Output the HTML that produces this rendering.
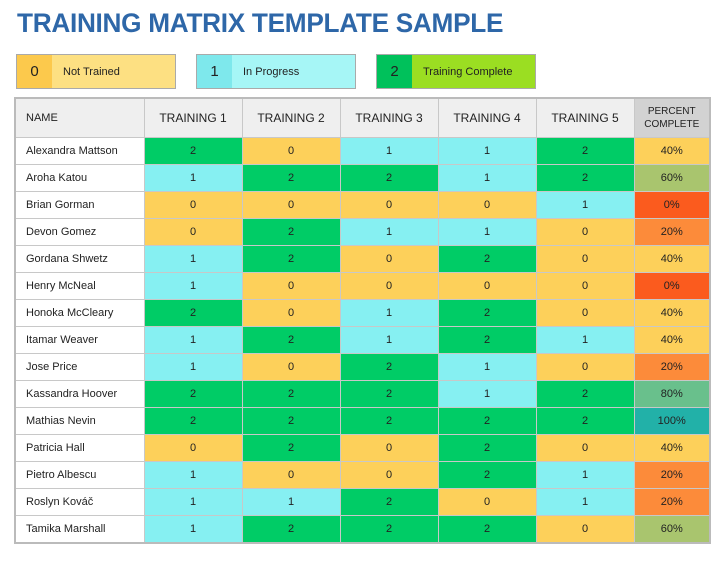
<!DOCTYPE html>
<html><head><meta charset="utf-8"><style>
body{margin:0;width:726px;height:567px;background:#fff;font-family:"Liberation Sans",sans-serif;position:relative;overflow:hidden}
.title{position:absolute;left:17px;top:8px;font-size:27px;font-weight:bold;color:#2e67a8;letter-spacing:-0.3px;white-space:nowrap;transform:scaleX(0.97);transform-origin:left}
.lg{position:absolute;top:54px;height:35px;width:160px;border:1px solid #aaa;box-sizing:border-box;display:flex;font-size:11px;color:#222}
.lg .n{width:35px;display:flex;align-items:center;justify-content:center;font-size:15px}
.lg .t{flex:1;display:flex;align-items:center;padding-left:11px}
table{position:absolute;left:14px;top:97px;border-collapse:collapse;table-layout:fixed;border:2px solid #bbb}
td{border:1px solid #c8c8c8;height:26px;padding:0;text-align:center;font-size:11px;color:#222;vertical-align:middle}
td.nm{text-align:left;padding-left:10px;background:#fff}
tr.h td{height:38px;background:#efefef;font-size:12px}
tr.h td.nm{font-size:11px}
tr.h td.p{background:#d2d2d2;font-size:10px;line-height:13px}
.c0{background:#fdd05a}.c1{background:#86f0f2}.c2{background:#00cc66}
.p40{background:#fdd05a}.p60{background:#a9c56e}.p0{background:#fb5b1e}.p20{background:#fc8b3a}.p80{background:#69c08c}.p100{background:#22b1a8}
</style></head><body>
<div class="title">TRAINING MATRIX TEMPLATE SAMPLE</div>
<div class="lg" style="left:16px"><div class="n" style="background:#fcc94c">0</div><div class="t" style="background:#fde082">Not Trained</div></div>
<div class="lg" style="left:196px"><div class="n" style="background:#7ee8ec">1</div><div class="t" style="background:#a6f6f6">In Progress</div></div>
<div class="lg" style="left:376px"><div class="n" style="background:#00c15b">2</div><div class="t" style="background:#9bde22">Training Complete</div></div>
<table>
<colgroup><col style="width:129px"><col style="width:98px"><col style="width:98px"><col style="width:98px"><col style="width:98px"><col style="width:98px"><col style="width:76px"></colgroup>
<tr class="h"><td class="nm">NAME</td><td>TRAINING 1</td><td>TRAINING 2</td><td>TRAINING 3</td><td>TRAINING 4</td><td>TRAINING 5</td><td class="p">PERCENT<br>COMPLETE</td></tr>
<tr><td class="nm">Alexandra Mattson</td><td class="c2">2</td><td class="c0">0</td><td class="c1">1</td><td class="c1">1</td><td class="c2">2</td><td class="p40">40%</td></tr>
<tr><td class="nm">Aroha Katou</td><td class="c1">1</td><td class="c2">2</td><td class="c2">2</td><td class="c1">1</td><td class="c2">2</td><td class="p60">60%</td></tr>
<tr><td class="nm">Brian Gorman</td><td class="c0">0</td><td class="c0">0</td><td class="c0">0</td><td class="c0">0</td><td class="c1">1</td><td class="p0">0%</td></tr>
<tr><td class="nm">Devon Gomez</td><td class="c0">0</td><td class="c2">2</td><td class="c1">1</td><td class="c1">1</td><td class="c0">0</td><td class="p20">20%</td></tr>
<tr><td class="nm">Gordana Shwetz</td><td class="c1">1</td><td class="c2">2</td><td class="c0">0</td><td class="c2">2</td><td class="c0">0</td><td class="p40">40%</td></tr>
<tr><td class="nm">Henry McNeal</td><td class="c1">1</td><td class="c0">0</td><td class="c0">0</td><td class="c0">0</td><td class="c0">0</td><td class="p0">0%</td></tr>
<tr><td class="nm">Honoka McCleary</td><td class="c2">2</td><td class="c0">0</td><td class="c1">1</td><td class="c2">2</td><td class="c0">0</td><td class="p40">40%</td></tr>
<tr><td class="nm">Itamar Weaver</td><td class="c1">1</td><td class="c2">2</td><td class="c1">1</td><td class="c2">2</td><td class="c1">1</td><td class="p40">40%</td></tr>
<tr><td class="nm">Jose Price</td><td class="c1">1</td><td class="c0">0</td><td class="c2">2</td><td class="c1">1</td><td class="c0">0</td><td class="p20">20%</td></tr>
<tr><td class="nm">Kassandra Hoover</td><td class="c2">2</td><td class="c2">2</td><td class="c2">2</td><td class="c1">1</td><td class="c2">2</td><td class="p80">80%</td></tr>
<tr><td class="nm">Mathias Nevin</td><td class="c2">2</td><td class="c2">2</td><td class="c2">2</td><td class="c2">2</td><td class="c2">2</td><td class="p100">100%</td></tr>
<tr><td class="nm">Patricia Hall</td><td class="c0">0</td><td class="c2">2</td><td class="c0">0</td><td class="c2">2</td><td class="c0">0</td><td class="p40">40%</td></tr>
<tr><td class="nm">Pietro Albescu</td><td class="c1">1</td><td class="c0">0</td><td class="c0">0</td><td class="c2">2</td><td class="c1">1</td><td class="p20">20%</td></tr>
<tr><td class="nm">Roslyn Kováč</td><td class="c1">1</td><td class="c1">1</td><td class="c2">2</td><td class="c0">0</td><td class="c1">1</td><td class="p20">20%</td></tr>
<tr><td class="nm">Tamika Marshall</td><td class="c1">1</td><td class="c2">2</td><td class="c2">2</td><td class="c2">2</td><td class="c0">0</td><td class="p60">60%</td></tr>
</table>
</body></html>
